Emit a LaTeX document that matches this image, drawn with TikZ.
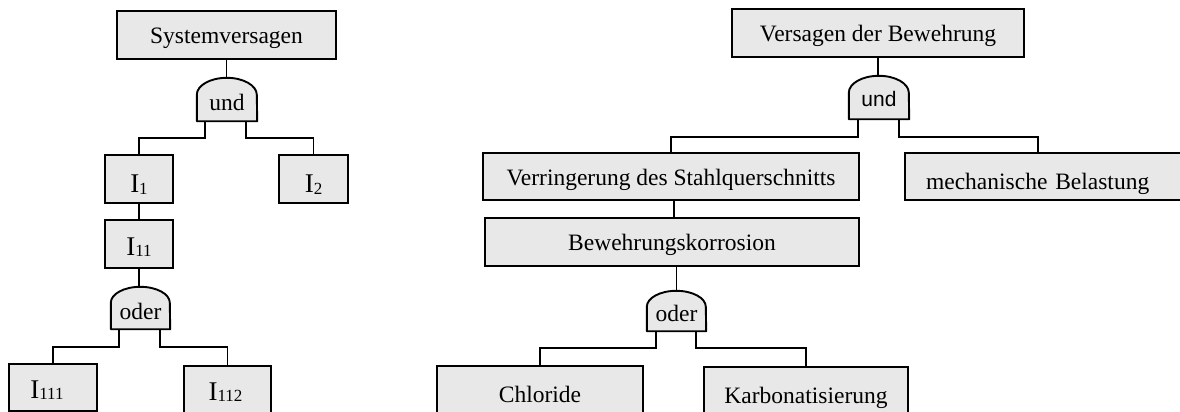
\documentclass[tikz,border=0pt]{standalone}
\usepackage{fontspec}
\setmainfont{Liberation Serif}
\newfontfamily\gatesans{Liberation Sans}
\usetikzlibrary{backgrounds}
\definecolor{boxgray}{RGB}{232,232,232}
\newcommand\Isub[1]{{\fontsize{27}{30}\selectfont I}\raisebox{-1.5pt}{\fontsize{17}{18}\selectfont #1}}
% name, half width, dome height
\newcommand\gatepath[3]{\draw[gateline] (#1.south west) -- ([yshift=-#3pt]#1.north west) arc[start angle=180,end angle=0,x radius=#2pt,y radius=#3pt] -- (#1.south east) -- cycle;}
\begin{document}
\begin{tikzpicture}[x=1pt,y=-1pt,
  box/.style={draw=black, line width=2.1pt, fill=boxgray, inner sep=0pt,
    font=\fontsize{23.5}{28}\selectfont, text height=17pt, text depth=0pt, minimum height=48pt},
  gate/.style={inner sep=0pt, minimum width=60pt, minimum height=43pt,
    font=\fontsize{23.5}{28}\selectfont, text height=21pt, text depth=0pt},
  gateline/.style={draw=black, line width=1.9pt, fill=boxgray, line join=round},
  link/.style={draw=black, line width=1.8pt}]
\useasboundingbox (0,0) rectangle (1180,412);

% ---------- left tree ----------
\node[box, minimum width=219pt] (sys) at (226.5,35) {Systemversagen};
\node[gate] (gL1) at (227,99.5) {und};
\node[box, minimum width=68pt, text height=27pt] (I1) at (139,179) {\Isub{1}};
\node[box, minimum width=69pt, text height=27pt] (I2) at (313.5,179) {\Isub{2}};
\node[box, minimum width=68pt, text height=22pt] (I11) at (139,244) {\Isub{11}};
\node[gate, minimum width=59pt, minimum height=42pt, text height=22.6pt] (gL2) at (140.5,308) {oder};
\node[box, minimum width=88pt, minimum height=47pt, text height=21pt] (I111) at (53,387.5) {\hspace*{-12pt}\Isub{111}};
\node[box, minimum width=87pt, text height=20pt] (I112) at (227.5,390) {\hspace*{-4pt}\Isub{112}};

% ---------- right tree ----------
\node[box, minimum width=292pt] (vdb) at (878,33) {Versagen der Bewehrung};
\node[gate, text height=18.4pt, font=\gatesans\fontsize{21}{25}\selectfont] (gR1) at (879,97.5) {und};
\node[box, minimum width=376pt, minimum height=47pt] (ver) at (671,176.5) {Verringerung des Stahlquerschnitts};
\node[box, anchor=west, minimum width=290pt, minimum height=47pt, text width=248pt, align=left,
  inner xsep=21pt, text height=26pt] (mech) at (904,176.5) {mechanische Belastung};
\coordinate (mechin) at (1038,153);
\node[box, minimum width=374pt] (bk) at (672,242) {Bewehrungskorrosion};
\node[gate, minimum width=59pt, minimum height=40pt, text height=21.4pt] (gR2) at (676.5,311) {oder};
\node[box, minimum width=206pt, text height=25pt] (chl) at (540,390) {Chloride};
\node[box, minimum width=204pt, text height=24pt] (karb) at (806,391) {Karbonatisierung};

% gate outlines behind their labels
\begin{scope}[on background layer]
  \gatepath{gL1}{30}{17}
  \gatepath{gL2}{29.5}{16}
  \gatepath{gR1}{30}{17}
  \gatepath{gR2}{29.5}{16}
\end{scope}

% ---------- connectors, left ----------
\draw[link] (sys.south) -- (sys.south |- gL1.north);
\draw[link] ([xshift=-22pt]gL1.south) -- ++(0,17) -| (I1.north);
\draw[link] ([xshift=19pt]gL1.south) -- ++(0,17) -| (I2.north);
\draw[link] (I1.south) -- (I11.north);
\draw[link] (I11.south) -- (I11.south |- gL2.north);
\draw[link] ([xshift=-21.5pt]gL2.south) -- ++(0,18) -| (I111.north);
\draw[link] ([xshift=19.5pt]gL2.south) -- ++(0,18) -| (I112.north);

% ---------- connectors, right ----------
\draw[link] (vdb.south) -- (vdb.south |- gR1.north);
\draw[link] ([xshift=-21pt]gR1.south) -- ++(0,18) -| (ver.north);
\draw[link] ([xshift=20pt]gR1.south) -- ++(0,18) -| (mechin);
\draw[link] ([xshift=3pt]ver.south) -- ([xshift=3pt]ver.south |- bk.north);
\draw[link] (gR2.north |- bk.south) -- (gR2.north);
\draw[link] ([xshift=-20.5pt]gR2.south) -- ++(0,17) -| (chl.north);
\draw[link] ([xshift=19.5pt]gR2.south) -- ++(0,17) -| (karb.north);
\end{tikzpicture}
\end{document}
